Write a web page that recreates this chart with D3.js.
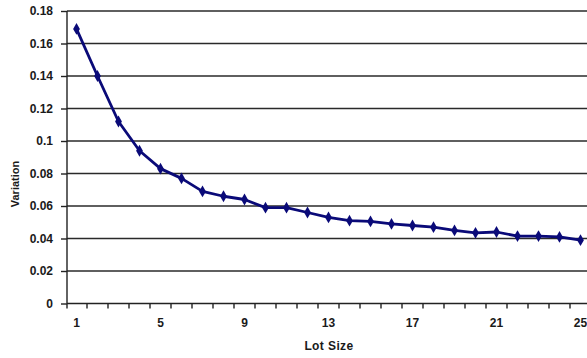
<!DOCTYPE html>
<html><head><meta charset="utf-8">
<script src="https://cdn.jsdelivr.net/npm/d3@7"></script>
<style>body{margin:0;background:#fff}svg{display:block}text{font-family:"Liberation Sans",Arial,sans-serif;font-weight:bold}</style>
</head><body>
<script>
const lotSizes = d3.range(1, 26);
const variation = [0.169,0.140,0.112,0.094,0.083,0.077,0.069,0.066,0.064,0.059,0.059,0.056,0.053,0.051,0.0505,0.049,0.048,0.047,0.045,0.0435,0.044,0.0415,0.0415,0.041,0.039];
const yTicks = [0,0.02,0.04,0.06,0.08,0.1,0.12,0.14,0.16,0.18];
const xTickLabels = [1,5,9,13,17,21,25];

const W=587,H=358;
const svg=d3.select("body").append("svg").attr("width",W).attr("height",H);
const x=d3.scaleBand().domain(lotSizes).range([66,591]);
const y=d3.scaleLinear().domain([0,0.18]).range([303.5,11]);

// gridlines
svg.append("g").selectAll("line").data(yTicks.filter(d=>d>0)).join("line")
  .attr("x1",67).attr("x2",W).attr("y1",d=>y(d)).attr("y2",d=>y(d))
  .attr("stroke","#2a2a2a").attr("stroke-width",1.4);

// y axis
const ya=svg.append("g").attr("transform","translate(67,0)")
  .call(d3.axisLeft(y).tickValues(yTicks).tickFormat(d=>d===0?"0":String(+d.toFixed(2))).tickSize(6).tickPadding(8));
ya.selectAll("path,line").attr("stroke","#222").attr("stroke-width",1.4);
ya.select(".domain").attr("d","M0,"+y(0.18)+"V"+y(0));
ya.selectAll("text").attr("font-size",12).attr("fill","#1a1a1a").style("font-family","Liberation Sans, Arial, sans-serif");

// x axis
const xa=svg.append("g").attr("transform","translate(0,"+y(0)+")");
xa.append("line").attr("x1",67).attr("x2",W).attr("stroke","#222").attr("stroke-width",1.4);
xa.selectAll("line.t").data(lotSizes).join("line").attr("class","t")
  .attr("x1",d=>x(d)+x.bandwidth()).attr("x2",d=>x(d)+x.bandwidth()).attr("y1",0).attr("y2",5)
  .attr("stroke","#222").attr("stroke-width",1.4);
xa.append("line").attr("x1",67).attr("x2",67).attr("y1",0).attr("y2",5).attr("stroke","#222").attr("stroke-width",1.4);
xa.selectAll("text").data(xTickLabels).join("text")
  .attr("x",d=>x(d)+x.bandwidth()/2).attr("y",23).attr("text-anchor","middle")
  .attr("font-size",12).attr("fill","#1a1a1a").text(d=>d);

// titles
svg.append("text").attr("x",329).attr("y",350).attr("text-anchor","middle").attr("font-size",12).attr("letter-spacing",0.4).attr("fill","#1a1a1a").text("Lot Size");
svg.append("text").attr("transform","translate(19,184) rotate(-90)").attr("text-anchor","middle").attr("font-size",11).attr("fill","#1a1a1a").text("Variation");

// line
const cx=d=>x(d)+x.bandwidth()/2;
const pts=lotSizes.map((d,i)=>[cx(d),y(variation[i])]);
svg.append("path").attr("d",d3.line()(pts)).attr("fill","none").attr("stroke","#0a0a78").attr("stroke-width",2.8).attr("stroke-linejoin","round");
svg.append("g").selectAll("path").data(pts).join("path")
  .attr("transform",d=>"translate("+d[0]+","+d[1]+")")
  .attr("d",d3.symbol(d3.symbolDiamond,40)()).attr("fill","#0a0a78");
</script>
</body></html>
